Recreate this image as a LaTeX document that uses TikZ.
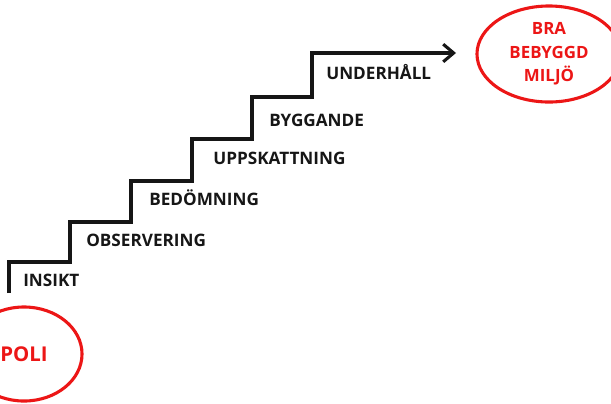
\documentclass[tikz,border=0pt]{standalone}
\usepackage{fontspec}
\setmainfont{Open Sans}
\usetikzlibrary{arrows.meta,shapes.geometric,positioning}
\definecolor{goalred}{RGB}{236,22,22}
\definecolor{stairblack}{RGB}{22,22,22}

\begin{document}
\begin{tikzpicture}[x=0.025cm, y=-0.025cm,
    stairlabel/.style={anchor=base west, inner sep=0pt, text=stairblack,
      font=\bfseries\fontsize{12.2}{14}\selectfont},
    goal/.style={ellipse, draw=goalred, line width=2.2pt, inner sep=0pt,
      text=goalred, align=center, font=\bfseries\fontsize{12}{16.7}\selectfont}]
  \useasboundingbox (0,0) rectangle (611,403);

  % Stairs with arrow
  \coordinate (start) at (9,293);
  \coordinate (finish) at (456,53);
  \draw[line width=2.2pt, stairblack, -{Straight Barb[length=2.6mm,width=4.4mm]}]
    (start) |- (70,262) |- (131,222) |- (192,181) |- (252,139) |- (312,97) |- (finish);

  % Step labels
  \node[stairlabel] (insikt) at (23,286.5) {INSIKT};
  \node[stairlabel] (observering) at (86,246.5) {OBSERVERING};
  \node[stairlabel] (bedomning) at (149,205.5) {BEDÖMNING};
  \node[stairlabel] (uppskattning) at (213,164.5) {UPPSKATTNING};
  \node[stairlabel] (byggande) at (269,126.5) {BYGGANDE};
  \node[stairlabel] (underhall) at (326,79.5) {UNDERHÅLL};

  % Start and goal
  \node[goal, minimum width=2.9cm, minimum height=2.35cm,
    font=\bfseries\fontsize{14.5}{17}\selectfont] (poli) at (24,354) {POLI};
  \node[goal, minimum width=3.6cm, minimum height=2.4cm] (miljo) at (549,54) {BRA\\BEBYGGD\\MILJÖ};
\end{tikzpicture}
\end{document}
